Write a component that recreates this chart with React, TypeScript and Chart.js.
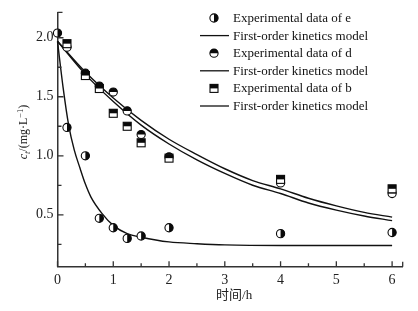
import React, { useEffect, useRef } from "react";
import { Chart, registerables } from "chart.js";
Chart.register(...registerables);

// ---- data ----
const timeE = [0, 0.17, 0.5, 0.75, 1, 1.25, 1.5, 2, 4, 6];
const concE = [2.04, 1.24, 1.0, 0.47, 0.39, 0.3, 0.32, 0.39, 0.34, 0.35];
const timeDB = [0.17, 0.5, 0.75, 1, 1.25, 1.5, 2, 4, 6];
const concD = [1.92, 1.7, 1.59, 1.54, 1.38, 1.18, 0.99, 0.77, 0.68];
const concB = [1.95, 1.68, 1.57, 1.36, 1.25, 1.11, 0.98, 0.8, 0.72];

const modelTimeE = [0, 0.1, 0.2, 0.3, 0.4, 0.5, 0.6, 0.8, 1, 1.25, 1.5, 2, 2.5, 3, 4, 5, 6];
const modelE = [1.97, 1.58, 1.26, 1.05, 0.9, 0.76, 0.65, 0.51, 0.41, 0.34, 0.31, 0.27, 0.255, 0.245, 0.24, 0.24, 0.24];
const modelTimeDB = [0, 0.5, 1, 1.5, 2, 2.5, 3, 3.5, 4, 4.5, 5, 5.5, 6];
const modelD = [1.97, 1.71, 1.49, 1.3, 1.14, 1.01, 0.89, 0.79, 0.72, 0.64, 0.575, 0.52, 0.48];
const modelB = [1.97, 1.69, 1.46, 1.26, 1.1, 0.965, 0.85, 0.75, 0.68, 0.6, 0.54, 0.49, 0.45];

const xTicks = [0, 1, 2, 3, 4, 5, 6];
const xMinorTicks = [0.5, 1.5, 2.5, 3.5, 4.5, 5.5];
const yTicks = [0.5, 1.0, 1.5, 2.0];
const yMinorTicks = [0.25, 0.75, 1.25, 1.75];

const legendLabels = [
  "Experimental data of e",
  "First-order kinetics model",
  "Experimental data of d",
  "First-order kinetics model",
  "Experimental data of b",
  "First-order kinetics model",
];
const xTitle = "时间/h";

const SERIF = '"Liberation Serif", "Times New Roman", serif';
const INK = "#222";
const MARK = "#0a0a0a";

function drawMarker(ctx: CanvasRenderingContext2D, kind: string, cx: number, cy: number) {
  const r = 4.1;
  ctx.save();
  ctx.lineWidth = 1.1;
  ctx.strokeStyle = MARK;
  if (kind === "square") {
    const h = 4;
    ctx.fillStyle = "#fff";
    ctx.fillRect(cx - h, cy - h, 2 * h, 2 * h);
    ctx.fillStyle = MARK;
    ctx.fillRect(cx - h, cy - h, 2 * h, h);
    ctx.strokeRect(cx - h, cy - h, 2 * h, 2 * h);
  } else {
    ctx.beginPath();
    ctx.arc(cx, cy, r, 0, Math.PI * 2);
    ctx.fillStyle = "#fff";
    ctx.fill();
    ctx.fillStyle = MARK;
    ctx.beginPath();
    if (kind === "right") ctx.arc(cx, cy, r, -Math.PI / 2, Math.PI / 2);
    else ctx.arc(cx, cy, r, Math.PI, Math.PI * 2);
    ctx.closePath();
    ctx.fill();
    ctx.beginPath();
    ctx.arc(cx, cy, r, 0, Math.PI * 2);
    ctx.stroke();
  }
  ctx.restore();
}

const zip = (xs: number[], ys: number[]) => xs.map((x, i) => ({ x, y: ys[i] }));

export default function App() {
  const ref = useRef<HTMLCanvasElement | null>(null);
  useEffect(() => {
    document.body.style.margin = "0";
    const canvas = ref.current!;
    const markerKinds = ["right", null, "top", null, "square", null];

    const scatter = (data: any, kind: string) => ({
      type: "scatter" as const,
      data,
      markerKind: kind,
      pointRadius: 0,
      pointHoverRadius: 0,
      showLine: false,
      clip: false,
      order: 0,
    });
    const line = (data: any) => ({
      type: "scatter" as const,
      data,
      showLine: true,
      borderColor: "#111",
      borderWidth: 1.4,
      pointRadius: 0,
      pointHoverRadius: 0,
      cubicInterpolationMode: "monotone" as const,
      clip: false,
      order: 1,
    });

    const axisPlugin = {
      id: "customAxes",
      afterDatasetsDraw(chart: any) {
        const ctx = chart.ctx;
        chart.data.datasets.forEach((ds: any, i: number) => {
          if (!ds.markerKind) return;
          const meta = chart.getDatasetMeta(i);
          meta.data.forEach((el: any) => drawMarker(ctx, ds.markerKind, el.x, el.y));
        });
      },
      afterDraw(chart: any) {
        const ctx = chart.ctx;
        const xs = chart.scales.x;
        const ys = chart.scales.y;
        const { left, right, top, bottom } = chart.chartArea;
        ctx.save();
        ctx.strokeStyle = "#333";
        ctx.lineWidth = 1.3;
        ctx.beginPath();
        xTicks.forEach((v) => {
          const px = xs.getPixelForValue(v);
          ctx.moveTo(px, bottom);
          ctx.lineTo(px, bottom - 5.5);
        });
        xMinorTicks.forEach((v) => {
          const px = xs.getPixelForValue(v);
          ctx.moveTo(px, bottom);
          ctx.lineTo(px, bottom - 3.5);
        });
        ctx.moveTo(right, bottom);
        ctx.lineTo(right, bottom - 5);
        yTicks.forEach((v) => {
          const py = ys.getPixelForValue(v);
          ctx.moveTo(left, py);
          ctx.lineTo(left + 6, py);
        });
        yMinorTicks.forEach((v) => {
          const py = ys.getPixelForValue(v);
          ctx.moveTo(left, py);
          ctx.lineTo(left + 4, py);
        });
        ctx.moveTo(left, top);
        ctx.lineTo(left + 5, top);
        ctx.stroke();

        // legend
        ctx.textBaseline = "middle";
        ctx.textAlign = "left";
        ctx.font = `13px ${SERIF}`;
        ctx.fillStyle = "#111";
        legendLabels.forEach((lab, i) => {
          const y = 18 + i * 17.6;
          const k = markerKinds[i];
          if (k) {
            drawMarker(ctx, k, 214, y);
          } else {
            ctx.beginPath();
            ctx.strokeStyle = "#111";
            ctx.lineWidth = 1.3;
            ctx.moveTo(200, y);
            ctx.lineTo(229, y);
            ctx.stroke();
          }
          ctx.font = `13px ${SERIF}`;
          ctx.fillStyle = "#111";
          ctx.fillText(lab, 233, y + 0.5);
        });

        // x title
        ctx.font = `13px ${SERIF}, "Noto Sans CJK SC"`;
        ctx.textAlign = "center";
        ctx.fillStyle = INK;
        ctx.fillText(xTitle, (left + right) / 2 + 4, 296);

        // y title c_t/(mg·L^-1)
        const parts = [
          { t: "c", f: `italic 12px ${SERIF}`, dy: 0 },
          { t: "t", f: `italic 8.5px ${SERIF}`, dy: 3 },
          { t: "/(mg·L", f: `12px ${SERIF}`, dy: 0 },
          { t: "−1", f: `8.5px ${SERIF}`, dy: -4.5 },
          { t: ")", f: `12px ${SERIF}`, dy: 0 },
        ];
        let total = 0;
        const widths = parts.map((p) => {
          ctx.font = p.f;
          const w = ctx.measureText(p.t).width;
          total += w;
          return w;
        });
        ctx.translate(27, 132);
        ctx.rotate(-Math.PI / 2);
        ctx.textAlign = "left";
        ctx.textBaseline = "alphabetic";
        let x0 = -total / 2;
        parts.forEach((p, i) => {
          ctx.font = p.f;
          ctx.fillText(p.t, x0, p.dy);
          x0 += widths[i];
        });
        ctx.restore();
      },
    };

    const chart = new Chart(canvas, {
      type: "scatter",
      data: {
        datasets: [
          scatter(zip(timeE, concE), "right"),
          line(zip(modelTimeE, modelE)),
          scatter(zip(timeDB, concD), "top"),
          line(zip(modelTimeDB, modelD)),
          scatter(zip(timeDB, concB), "square"),
          line(zip(modelTimeDB, modelB)),
        ] as any,
      },
      options: {
        responsive: false,
        animation: false,
        devicePixelRatio: 1,
        events: [],
        layout: { padding: { top: 9.3, right: 15.3, left: 0, bottom: 0 } },
        plugins: { legend: { display: false }, tooltip: { enabled: false } },
        scales: {
          x: {
            type: "linear",
            min: 0,
            max: 6.19,
            afterFit: (s: any) => {
              s.height = 44.3;
            },
            afterBuildTicks: (s: any) => {
              s.ticks = xTicks.map((v) => ({ value: v }));
            },
            grid: { display: false, drawTicks: false },
            border: { display: true, color: "#333", width: 1.5 },
            ticks: {
              padding: 5,
              color: INK,
              font: { family: SERIF, size: 14 },
              maxRotation: 0,
              callback: (v: any) => String(v),
            },
          },
          y: {
            type: "linear",
            min: 0.06,
            max: 2.215,
            afterFit: (s: any) => {
              s.width = 57.5;
            },
            afterBuildTicks: (s: any) => {
              s.ticks = yTicks.map((v) => ({ value: v }));
            },
            grid: { display: false, drawTicks: false },
            border: { display: true, color: "#333", width: 1.5 },
            ticks: {
              padding: 4,
              color: INK,
              font: { family: SERIF, size: 14 },
              callback: (v: any) => Number(v).toFixed(1),
            },
          },
        },
      },
      plugins: [axisPlugin],
    });
    return () => chart.destroy();
  }, []);
  return (
    <canvas
      ref={ref}
      width={418}
      height={311}
      style={{ display: "block", width: 418, height: 311 }}
    />
  );
}
